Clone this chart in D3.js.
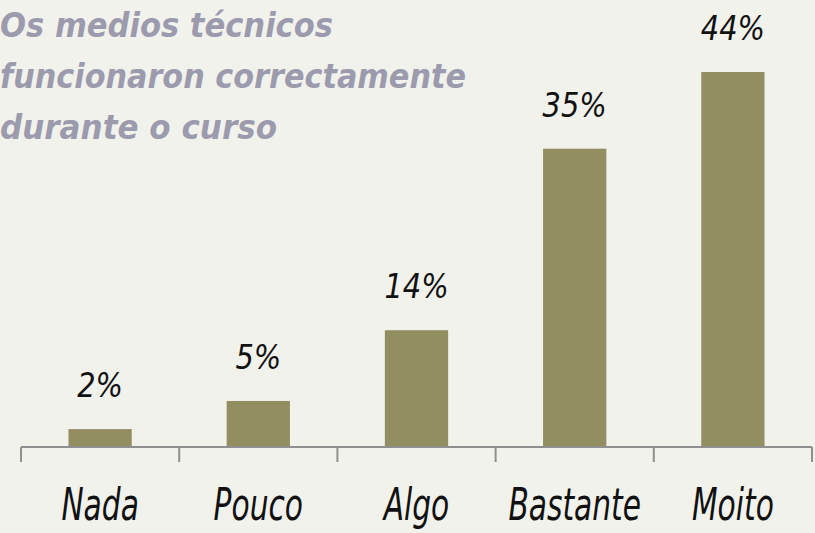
<!DOCTYPE html>
<html>
<head>
<meta charset="utf-8">
<script src="https://cdn.jsdelivr.net/npm/d3@7"></script>
<style>
  body { margin: 0; background: #f2f2ec; }
  svg { display: block; }
</style>
</head>
<body>
<div id="chart"></div>
<script>
// data
var categories = ['Nada', 'Pouco', 'Algo', 'Bastante', 'Moito'];
var values = [2.1, 5.4, 13.7, 35.0, 44.0];
var valueLabels = ['2%', '5%', '14%', '35%', '44%'];
var titleLines = ['Os medios técnicos', 'funcionaron correctamente', 'durante o curso'];

var W = 815, H = 533;
var svg = d3.select('#chart').append('svg')
  .attr('width', W)
  .attr('height', H);

svg.append('rect')
  .attr('width', W)
  .attr('height', H)
  .attr('fill', '#f2f2ec');

var baseY = 447;
var x = d3.scaleBand()
  .domain(categories)
  .range([21, 812])
  .padding(0);
var y = d3.scaleLinear()
  .domain([0, 44])
  .range([baseY, 72]);

var barW = x.bandwidth() * 0.4;

svg.selectAll('.bar')
  .data(values)
  .enter().append('rect')
  .attr('class', 'bar')
  .attr('x', function(d, i) { return x(categories[i]) + (x.bandwidth() - barW) / 2; })
  .attr('y', function(d) { return y(d); })
  .attr('width', barW)
  .attr('height', function(d) { return baseY - y(d); })
  .attr('fill', '#928e62');

// x axis: line plus tick marks at band edges
var axis = d3.axisBottom(x).tickSize(0).tickFormat('');
var gx = svg.append('g')
  .attr('transform', 'translate(0,' + baseY + ')')
  .call(axis);
gx.select('.domain').attr('stroke', '#8f8f8f').attr('stroke-width', 2).attr('d', 'M21,0H812');
var edges = categories.map(function(c) { return x(c); }).concat([x.range()[1]]);
gx.selectAll('.edge')
  .data(edges)
  .enter().append('line')
  .attr('class', 'edge')
  .attr('x1', function(d) { return d; })
  .attr('x2', function(d) { return d; })
  .attr('y1', 0)
  .attr('y2', 15)
  .attr('stroke', '#8f8f8f')
  .attr('stroke-width', 2);

// category labels (tall, narrow, like handwriting)
svg.selectAll('.cat')
  .data(categories)
  .enter().append('text')
  .attr('class', 'cat')
  .attr('transform', function(d) {
    return 'translate(' + (x(d) + x.bandwidth() / 2) + ',520) scale(0.66,1)';
  })
  .attr('text-anchor', 'middle')
  .style('font-family', '"DejaVu Sans", sans-serif')
  .style('font-style', 'italic')
  .style('font-size', '45px')
  .style('fill', '#111')
  .text(function(d) { return d; });

// value labels
svg.selectAll('.val')
  .data(values)
  .enter().append('text')
  .attr('class', 'val')
  .attr('transform', function(d, i) {
    return 'translate(' + (x(categories[i]) + x.bandwidth() / 2) + ',' + (y(d) - 32) + ') scale(0.85,1)';
  })
  .attr('text-anchor', 'middle')
  .style('font-family', '"DejaVu Sans", sans-serif')
  .style('font-style', 'italic')
  .style('font-size', '34px')
  .style('fill', '#111')
  .text(function(d, i) { return valueLabels[i]; });

// title
svg.selectAll('.title')
  .data(titleLines)
  .enter().append('text')
  .attr('class', 'title')
  .attr('x', 0)
  .attr('y', function(d, i) { return 37 + i * 51; })
  .style('font-family', '"DejaVu Sans", sans-serif')
  .style('font-weight', 'bold')
  .style('font-style', 'italic')
  .style('font-size', '34px')
  .style('fill', '#9c9bae')
  .attr('textLength', function(d, i) { return [333, 466, 277][i]; })
  .attr('lengthAdjust', 'spacingAndGlyphs')
  .text(function(d) { return d; });
</script>
</body>
</html>
